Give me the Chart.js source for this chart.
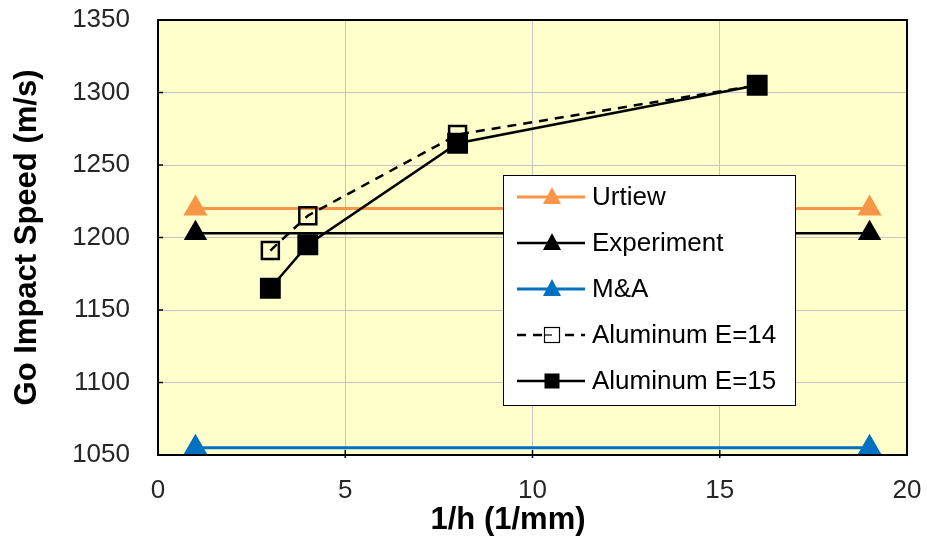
<!DOCTYPE html>
<html>
<head>
<meta charset="utf-8">
<script src="https://cdn.jsdelivr.net/npm/chart.js@4"></script>
<style>
  html, body { margin: 0; padding: 0; background: #fff; }
  #wrap { width: 927px; height: 537px; }
</style>
</head>
<body>
<div id="wrap"><canvas id="chart" width="927" height="537"></canvas></div>
<script>
const refX = [1, 19];
const urtiew = [1220, 1220];
const experiment = [1203, 1203];
const mAndA = [1055, 1055];

const aluX = [3, 4, 8, 16];
const aluE14 = [1191, 1215, 1271, 1305];
const aluE15 = [1165, 1195, 1265, 1305];

const xTicks = [5, 10, 15];
const yTicks = [1100, 1150, 1200, 1250, 1300];

const seriesNames = ['Urtiew', 'Experiment', 'M&A', 'Aluminum E=14', 'Aluminum E=15'];
const xTitle = '1/h (1/mm)';
const yTitle = 'Go Impact Speed (m/s)';

const toPts = (xs, ys) => xs.map((x, i) => ({ x: x, y: ys[i] }));

// yellow plot area, black frame, small inward tick marks, x title (sits a bit left of centre)
const plotBg = {
    id: 'plotBg',
    beforeDraw(chart) {
        const { ctx, chartArea: a } = chart;
        ctx.save();
        ctx.fillStyle = '#FFFFCC';
        ctx.fillRect(a.left, a.top, a.right - a.left, a.bottom - a.top);
        ctx.restore();
    },
    afterDatasetsDraw(chart) {
        const { ctx, chartArea: a, scales } = chart;
        ctx.save();
        ctx.strokeStyle = '#000';
        ctx.lineWidth = 2;
        ctx.strokeRect(a.left, a.top, a.right - a.left, a.bottom - a.top);
        ctx.lineWidth = 1.5;
        xTicks.forEach(v => {
            const px = scales.x.getPixelForValue(v);
            ctx.beginPath();
            ctx.moveTo(px, a.bottom - 5);
            ctx.lineTo(px, a.bottom + 3);
            ctx.stroke();
        });
        yTicks.forEach(v => {
            const py = scales.y.getPixelForValue(v);
            ctx.beginPath();
            ctx.moveTo(a.left - 1, py);
            ctx.lineTo(a.left + 5, py);
            ctx.stroke();
        });
        ctx.fillStyle = '#000';
        ctx.font = 'bold 31px "Liberation Sans", Arial, sans-serif';
        ctx.textAlign = 'center';
        ctx.textBaseline = 'middle';
        ctx.fillText(xTitle, 508, 520);
        ctx.restore();
    }
};

// legend box drawn inside the plot
const boxLegend = {
    id: 'boxLegend',
    afterDraw(chart) {
        const { ctx } = chart;
        const left = 503, top = 175, w = 292, h = 230;
        ctx.save();
        ctx.fillStyle = '#fff';
        ctx.fillRect(left, top, w, h);
        ctx.strokeStyle = '#000';
        ctx.lineWidth = 1;
        ctx.strokeRect(left + 0.5, top + 0.5, w, h);
        chart.data.datasets.forEach((ds, i) => {
            const y = top + 22 + i * 46;
            ctx.strokeStyle = ds.borderColor;
            ctx.lineWidth = ds.borderWidth;
            ctx.setLineDash(ds.borderDash || []);
            ctx.beginPath();
            ctx.moveTo(517, y);
            ctx.lineTo(585, y);
            ctx.stroke();
            ctx.setLineDash([]);
            if (ds.pointStyle === 'triangle') {
                ctx.fillStyle = ds.pointBackgroundColor;
                ctx.beginPath();
                ctx.moveTo(552, y - 10);
                ctx.lineTo(561, y + 7);
                ctx.lineTo(543, y + 7);
                ctx.closePath();
                ctx.fill();
            } else {
                const s = 15;
                if (ds.pointBackgroundColor !== 'transparent') {
                    ctx.fillStyle = ds.pointBackgroundColor;
                    ctx.fillRect(552 - s / 2, y - s / 2, s, s);
                } else {
                    ctx.fillStyle = '#fff';
                    ctx.fillRect(552 - s / 2, y - s / 2, s, s);
                    ctx.strokeStyle = '#000';
                    ctx.lineWidth = 1.2;
                    ctx.strokeRect(552 - s / 2, y - s / 2, s, s);
                    ctx.beginPath();
                    ctx.moveTo(545, y);
                    ctx.lineTo(552, y);
                    ctx.stroke();
                }
            }
            ctx.fillStyle = '#000';
            ctx.font = '26px "Liberation Sans", Arial, sans-serif';
            ctx.textAlign = 'left';
            ctx.textBaseline = 'middle';
            ctx.fillText(ds.label, 592, y + 1);
        });
        ctx.restore();
    }
};

const fontTick = { family: '"Liberation Sans", Arial, sans-serif', size: 26 };
const fontTitle = { family: '"Liberation Sans", Arial, sans-serif', size: 31, weight: 'bold' };

const noEdgePadding = s => {
    s.paddingTop = 0; s.paddingBottom = 0; s.paddingLeft = 0; s.paddingRight = 0;
};

new Chart(document.getElementById('chart').getContext('2d'), {
    type: 'scatter',
    data: {
        datasets: [
            {
                label: seriesNames[0], data: toPts(refX, urtiew), showLine: true,
                borderColor: '#F79646', borderWidth: 3, pointStyle: 'triangle',
                pointRadius: 11, pointBackgroundColor: '#F79646', pointBorderColor: '#F79646',
                order: 4
            },
            {
                label: seriesNames[1], data: toPts(refX, experiment), showLine: true,
                borderColor: '#000', borderWidth: 2.5, pointStyle: 'triangle',
                pointRadius: 11, pointBackgroundColor: '#000', pointBorderColor: '#000',
                order: 3
            },
            {
                label: seriesNames[2], data: toPts(refX, mAndA), showLine: true,
                borderColor: '#0070C0', borderWidth: 3, pointStyle: 'triangle',
                pointRadius: 11, pointBackgroundColor: '#0070C0', pointBorderColor: '#0070C0',
                order: 2
            },
            {
                label: seriesNames[3], data: toPts(aluX, aluE14), showLine: true,
                borderColor: '#000', borderWidth: 2.5, borderDash: [9, 7], pointStyle: 'rect',
                pointRadius: 12, pointBackgroundColor: 'transparent', pointBorderColor: '#000',
                pointBorderWidth: 2.5, order: 1
            },
            {
                label: seriesNames[4], data: toPts(aluX, aluE15), showLine: true,
                borderColor: '#000', borderWidth: 2.5, pointStyle: 'rect',
                pointRadius: 13, pointBackgroundColor: '#000', pointBorderColor: '#000',
                order: 0
            }
        ]
    },
    options: {
        responsive: false,
        animation: false,
        layout: { padding: { top: 20, right: 20, left: 0, bottom: 0 } },
        plugins: { legend: { display: false }, tooltip: { enabled: false } },
        scales: {
            x: {
                type: 'linear', min: 0, max: 20,
                ticks: { stepSize: 5, color: '#262626', font: fontTick, padding: 20 },
                grid: { color: '#C4C4C4', lineWidth: 1, drawTicks: false },
                border: { display: false },
                title: { display: false },
                afterFit(s) { s.height = 82; noEdgePadding(s); }
            },
            y: {
                min: 1050, max: 1350,
                ticks: { stepSize: 50, color: '#262626', font: fontTick, padding: 28, callback: v => String(v) },
                grid: { color: '#C4C4C4', lineWidth: 1, drawTicks: false },
                border: { display: false },
                title: { display: true, text: yTitle, color: '#000', font: fontTitle, padding: { top: 9, bottom: 0 } },
                afterFit(s) { s.width = 158; noEdgePadding(s); }
            }
        }
    },
    plugins: [plotBg, boxLegend]
});
</script>
</body>
</html>
